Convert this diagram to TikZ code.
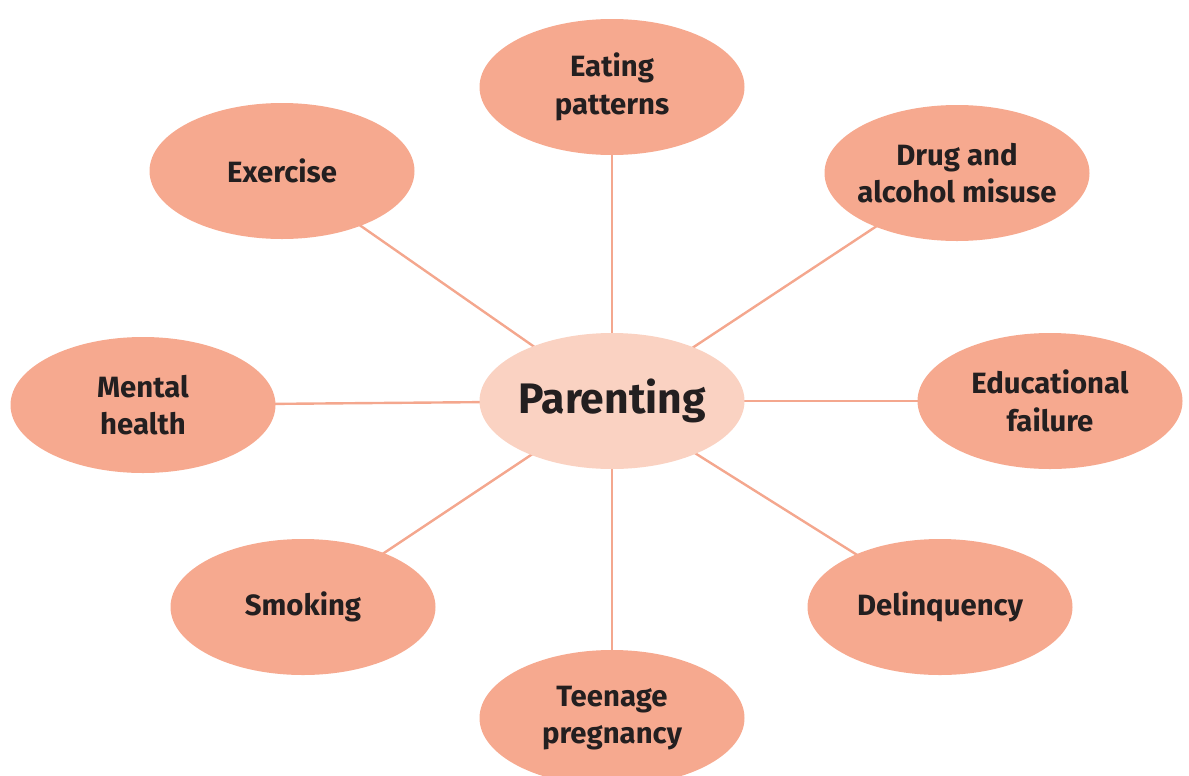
\documentclass[tikz,border=0pt]{standalone}
\usepackage{fontspec}
\setmainfont{Fira Sans}
\usepackage{tikz}
\usetikzlibrary{shapes.geometric,backgrounds}
\definecolor{outerfill}{RGB}{246,169,143}
\definecolor{innerfill}{RGB}{250,210,194}
\definecolor{spoke}{RGB}{244,167,142}
\definecolor{inktext}{RGB}{35,31,32}

\begin{document}
\begin{tikzpicture}[x=0.75pt,y=0.75pt,yscale=-1,xscale=1,
	topic/.style={ellipse,fill=outerfill,inner ysep=0pt,inner xsep=-8pt,minimum width=198.75pt,minimum height=102pt,align=center,text=inktext,font=\fontsize{22}{28}\selectfont\bfseries},
	hub/.style={topic,fill=innerfill,font=\fontsize{32}{36}\selectfont\bfseries},
	link/.style={draw=spoke,line width=1.8pt}]
	\useasboundingbox (0,0) rectangle (1189,775);
	\clip (0,0) rectangle (1189,775);

	% Centre
	\node [hub] (par) at (612,401) {Parenting};
	% Outer nodes
	\node [topic] (eat) at (612,87) {Eating\\patterns};
	\node [topic] (drug) at (957,173) {Drug and\\alcohol misuse};
	\node [topic] (edu) at (1050,401) {Educational\\failure};
	\node [topic] (del) at (940,607) {Delinquency};
	\node [topic] (teen) at (612,718) {Teenage\\pregnancy};
	\node [topic] (smo) at (303,607) {Smoking};
	\node [topic] (men) at (143,405) {Mental\\health};
	\node [topic] (exe) at (282,171) {Exercise};

	% Spokes
	\begin{scope}[on background layer]
		\foreach \t in {eat,drug,edu,del,teen,smo,men,exe}
			\draw [link] (par.center) -- (\t.center);
	\end{scope}
\end{tikzpicture}
\end{document}
